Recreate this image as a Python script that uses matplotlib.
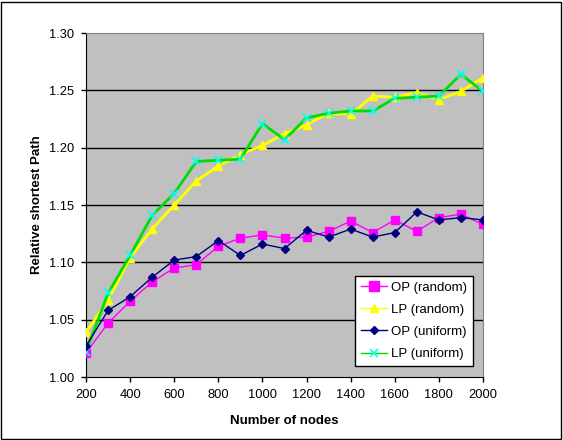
import matplotlib
matplotlib.use("Agg")
import matplotlib.pyplot as plt
from matplotlib.patches import Rectangle
from matplotlib.lines import Line2D

plt.rcParams['font.family'] = ['Liberation Sans', 'DejaVu Sans']

nodes = [200, 300, 400, 500, 600, 700, 800, 900, 1000, 1100,
         1200, 1300, 1400, 1500, 1600, 1700, 1800, 1900, 2000]

op_random = [1.021, 1.047, 1.066, 1.083, 1.095, 1.098, 1.114, 1.121, 1.124, 1.121,
             1.122, 1.127, 1.136, 1.126, 1.137, 1.127, 1.139, 1.142, 1.133]
lp_random = [1.039, 1.067, 1.104, 1.129, 1.150, 1.171, 1.184, 1.194, 1.202, 1.212,
             1.220, 1.230, 1.229, 1.245, 1.244, 1.248, 1.242, 1.249, 1.261]
op_uniform = [1.027, 1.058, 1.070, 1.087, 1.102, 1.105, 1.119, 1.106, 1.116, 1.112,
              1.128, 1.122, 1.129, 1.122, 1.126, 1.144, 1.137, 1.139, 1.137]
lp_uniform = [1.022, 1.073, 1.106, 1.141, 1.160, 1.188, 1.189, 1.190, 1.221, 1.207,
              1.226, 1.230, 1.232, 1.232, 1.243, 1.244, 1.245, 1.264, 1.249]

labels = ['OP (random)', 'LP (random)', 'OP (uniform)', 'LP (uniform)']
yticks = [1.00, 1.05, 1.10, 1.15, 1.20, 1.25, 1.30]
xticks = [200, 400, 600, 800, 1000, 1200, 1400, 1600, 1800, 2000]

fig = plt.figure(figsize=(5.63, 4.40), dpi=100)
# chart area border
fig.patches.append(Rectangle((0.002, 0.002), 0.995, 0.994, transform=fig.transFigure,
                             fill=False, edgecolor='black', linewidth=1))

ax = fig.add_axes([86/563, 1 - 377/440, (483-86)/563, (377-33)/440])
ax.set_facecolor('#C0C0C0')

for y in yticks[1:-1]:
    ax.axhline(y, color='black', linewidth=1, zorder=1)

ax.plot(nodes, op_random, color='#FF00FF', marker='s', markersize=6, linewidth=1, zorder=3)
ax.plot(nodes, lp_random, color='#FFFF00', marker='^', markersize=6, linewidth=2, zorder=3)
ax.plot(nodes, op_uniform, color='#000080', marker='D', markersize=4, linewidth=1, zorder=4)
ax.plot(nodes, lp_uniform, color='#00DD00', marker='x', markersize=6, linewidth=2,
        markeredgecolor='#00FFFF', markeredgewidth=1.2, zorder=3)

ax.set_xlim(200, 2000)
ax.set_ylim(1.00, 1.30)
ax.set_xticks(xticks)
ax.set_yticks(yticks)
ax.set_yticklabels(['%.2f' % v for v in yticks])
ax.tick_params(axis='both', labelsize=9.3, direction='out', length=3.5, width=1,
               color='black', pad=5)

for side in ['top', 'right']:
    ax.spines[side].set_color('#808080')
for side in ['left', 'bottom']:
    ax.spines[side].set_color('black')

ax.set_xlabel('Number of nodes', fontsize=9.5, fontweight='bold', labelpad=10)
ax.set_ylabel('Relative shortest Path', fontsize=9.5, fontweight='bold', labelpad=4)

# legend handles drawn with thin lines like the original
handles = [
    Line2D([], [], color='#FF00FF', marker='s', markersize=7, linewidth=1),
    Line2D([], [], color='#FFFF00', marker='^', markersize=6, linewidth=1),
    Line2D([], [], color='#000080', marker='D', markersize=4, linewidth=1),
    Line2D([], [], color='#00DD00', marker='x', markersize=6, linewidth=1,
           markeredgecolor='#00FFFF', markeredgewidth=1.2),
]
leg = ax.legend(handles, labels, loc='lower right', bbox_to_anchor=(0.985, 0.02),
                fontsize=9.5, frameon=True, fancybox=False, edgecolor='black',
                framealpha=1, handlelength=2.0, borderpad=0.45, labelspacing=0.75,
                handletextpad=0.3, borderaxespad=0.3)
leg.get_frame().set_linewidth(1)

fig.savefig('out.png', dpi=100)
